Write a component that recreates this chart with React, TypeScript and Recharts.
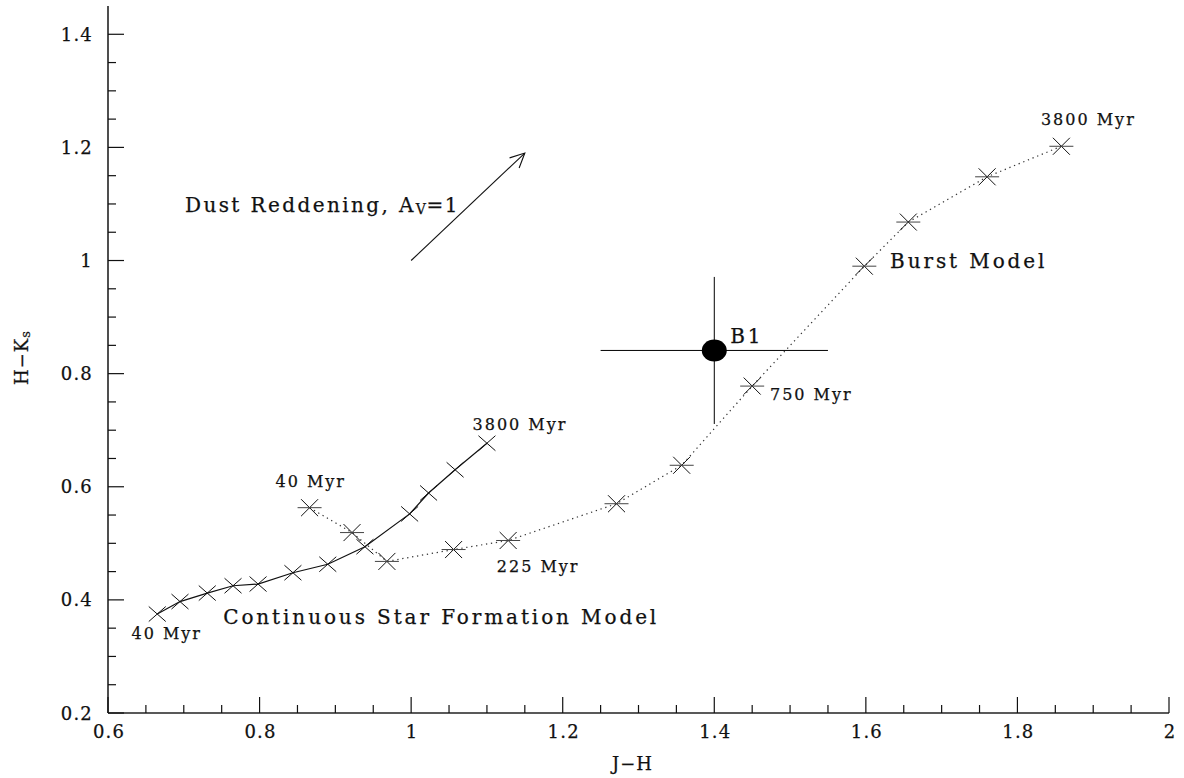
import React from 'react';
import { ComposedChart, Scatter, XAxis, YAxis, ErrorBar, ReferenceLine } from 'recharts';

// ---- axis ticks ----
const xTicks = [0.6, 0.65, 0.7, 0.75, 0.8, 0.85, 0.9, 0.95, 1, 1.05, 1.1, 1.15, 1.2, 1.25, 1.3, 1.35, 1.4, 1.45, 1.5, 1.55, 1.6, 1.65, 1.7, 1.75, 1.8, 1.85, 1.9, 1.95, 2];
const xMajorTicks = [0.6, 0.8, 1, 1.2, 1.4, 1.6, 1.8, 2];
const yTicks = [0.2, 0.25, 0.3, 0.35, 0.4, 0.45, 0.5, 0.55, 0.6, 0.65, 0.7, 0.75, 0.8, 0.85, 0.9, 0.95, 1, 1.05, 1.1, 1.15, 1.2, 1.25, 1.3, 1.35, 1.4];
const yMajorTicks = [0.2, 0.4, 0.6, 0.8, 1, 1.2, 1.4];

// ---- Continuous star formation model ----
const contJH = [0.665, 0.695, 0.731, 0.765, 0.798, 0.844, 0.890, 0.939, 0.998, 1.023, 1.058, 1.100];
const contHK = [0.375, 0.397, 0.412, 0.425, 0.428, 0.448, 0.463, 0.494, 0.552, 0.589, 0.630, 0.677];

// ---- Burst model ----
const burstJH = [0.866, 0.922, 0.968, 1.056, 1.128, 1.271, 1.357, 1.450, 1.598, 1.656, 1.760, 1.858];
const burstHK = [0.563, 0.519, 0.468, 0.489, 0.505, 0.570, 0.638, 0.778, 0.990, 1.068, 1.148, 1.202];

// ---- B1 measurement ----
const b1JH = [1.40];
const b1HK = [0.841];
const b1ErrJH = [0.15];
const b1ErrHK = [0.13];

// ---- Reddening vector (A_V = 1) ----
const arrowStart = { x: 1.0, y: 1.0 };
const arrowEnd = { x: 1.15, y: 1.19 };

// ---- Annotations (text, J-H, H-Ks) ----
const bigLabelText = ['Burst Model', 'B1', 'Continuous Star Formation Model'];
const bigLabelJH = [1.632, 1.421, 0.752];
const bigLabelHK = [1.0, 0.866, 0.370];

const ageLabelText = ['3800 Myr', '750 Myr', '225 Myr', '3800 Myr', '40 Myr', '40 Myr'];
const ageLabelJH = [1.831, 1.4735, 1.113, 1.081, 0.821, 0.631];
const ageLabelHK = [1.25, 0.763, 0.459, 0.710, 0.609, 0.341];

const dustLabel = { pre: 'Dust Reddening, A', sub: 'V', post: '=1', x: 0.7016, y: 1.099 };

const contData = contJH.map((x, i) => ({ x, y: contHK[i] }));
const burstData = burstJH.map((x, i) => ({ x, y: burstHK[i] }));
const b1Data = b1JH.map((x, i) => ({ x, y: b1HK[i], ex: b1ErrJH[i], ey: b1ErrHK[i] }));
const bigLabels = bigLabelText.map((t, i) => ({ x: bigLabelJH[i], y: bigLabelHK[i], label: t }));
const ageLabels = ageLabelText.map((t, i) => ({ x: ageLabelJH[i], y: ageLabelHK[i], label: t }));
const dustData = [{ x: dustLabel.x, y: dustLabel.y }];

const FONT = '"DejaVu Serif", serif';
const INK = '#111';
const TXT = { stroke: INK, strokeWidth: 0.25 };

const isMajor = (v: number, majors: number[]) => majors.some((m) => Math.abs(m - v) < 1e-6);
const fmt = (v: number) => String(Math.round(v * 100) / 100);

const BottomTick = (p: any) => {
  const { x, y, payload } = p;
  const major = isMajor(payload.value, xMajorTicks);
  return (
    <g>
      <line x1={x} x2={x} y1={y} y2={y - (major ? 16 : 8)} stroke={INK} strokeWidth={1.2} />
      {major && (
        <text x={x + 1} y={y + 18} textAnchor="middle" dominantBaseline="central" fontFamily={FONT} fontSize={18} letterSpacing={1.2} fill={INK} {...TXT}>
          {fmt(payload.value)}
        </text>
      )}
    </g>
  );
};
const TopTick = (p: any) => {
  const { x, y, payload } = p;
  const major = isMajor(payload.value, xMajorTicks);
  return <line x1={x} x2={x} y1={y} y2={y + (major ? 16 : 8)} stroke={INK} strokeWidth={1.2} />;
};
const LeftTick = (p: any) => {
  const { x, y, payload } = p;
  const major = isMajor(payload.value, yMajorTicks);
  return (
    <g>
      <line x1={x} x2={x + (major ? 16 : 8)} y1={y} y2={y} stroke={INK} strokeWidth={1.2} />
      {major && (
        <text x={x - 15} y={y} textAnchor="end" dominantBaseline="central" fontFamily={FONT} fontSize={18} letterSpacing={1.2} fill={INK} {...TXT}>
          {fmt(payload.value)}
        </text>
      )}
    </g>
  );
};
const RightTick = (p: any) => {
  const { x, y, payload } = p;
  const major = isMajor(payload.value, yMajorTicks);
  return <line x1={x} x2={x - (major ? 16 : 8)} y1={y} y2={y} stroke={INK} strokeWidth={1.2} />;
};

const CrossShape = (p: any) => {
  const { cx, cy } = p;
  const a = 8.5, b = 7.5;
  return (
    <g stroke={INK} strokeWidth={1}>
      <line x1={cx - a} y1={cy - b} x2={cx + a} y2={cy + b} />
      <line x1={cx - a} y1={cy + b} x2={cx + a} y2={cy - b} />
    </g>
  );
};
const StarShape = (p: any) => {
  const { cx, cy } = p;
  const a = 8.5, b = 8.5, h = 12;
  return (
    <g stroke={INK} strokeWidth={1}>
      <line x1={cx - a} y1={cy - b} x2={cx + a} y2={cy + b} />
      <line x1={cx - a} y1={cy + b} x2={cx + a} y2={cy - b} />
      <line x1={cx - h} y1={cy} x2={cx + h} y2={cy} stroke="#444" />
    </g>
  );
};
const EllipseShape = (p: any) => <ellipse cx={p.cx} cy={p.cy} rx={12.5} ry={11} fill="#000" />;

const BigText = (p: any) => (
  <text x={p.cx} y={p.cy} dominantBaseline="central" fontFamily={FONT} fontSize={20} letterSpacing={2.9} fill={INK} {...TXT}>
    {p.payload.label}
  </text>
);
const AgeText = (p: any) => (
  <text x={p.cx} y={p.cy} dominantBaseline="central" fontFamily={FONT} fontSize={16} letterSpacing={2} fill={INK} {...TXT}>
    {p.payload.label}
  </text>
);
const DustText = (p: any) => (
  <text x={p.cx} y={p.cy} dominantBaseline="central" fontFamily={FONT} fontSize={20} letterSpacing={2.4} fill={INK} {...TXT}>
    <tspan>{dustLabel.pre}</tspan>
    <tspan dy={4} fontSize={14} letterSpacing={0.5}>{dustLabel.sub}</tspan>
    <tspan dy={-4} letterSpacing={1.5}>{dustLabel.post}</tspan>
  </text>
);

const ArrowShape = (p: any) => {
  const { x1, y1, x2, y2 } = p;
  const ang = Math.atan2(y2 - y1, x2 - x1);
  const L = 16, w = 0.45;
  const ax = x2 - L * Math.cos(ang - w), ay = y2 - L * Math.sin(ang - w);
  const bx = x2 - L * Math.cos(ang + w), by = y2 - L * Math.sin(ang + w);
  return (
    <g stroke={INK} strokeWidth={1.1} fill="none">
      <line x1={x1} y1={y1} x2={x2} y2={y2} />
      <polyline points={`${ax},${ay} ${x2},${y2} ${bx},${by}`} />
    </g>
  );
};

const XTitle = (p: any) => {
  const vb = p.viewBox || { x: 108, y: 713, width: 1061, height: 65 };
  return (
    <text x={vb.x + vb.width / 2 - 6} y={vb.y + 50} textAnchor="middle" dominantBaseline="central" fontFamily={FONT} fontSize={18} letterSpacing={1} fill={INK} {...TXT}>
      J−H
    </text>
  );
};
const YTitle = (p: any) => {
  const vb = p.viewBox || { x: 0, y: 6, width: 108, height: 707 };
  const cx = 21;
  const cy = vb.y + vb.height / 2 - 2;
  return (
    <text x={cx} y={cy} transform={`rotate(-90, ${cx}, ${cy})`} textAnchor="middle" dominantBaseline="central" fontFamily={FONT} fontSize={18} letterSpacing={1} fill={INK} {...TXT}>
      <tspan>H−K</tspan>
      <tspan dy={4} fontSize={13}>s</tspan>
    </text>
  );
};

export default function App() {
  return (
    <div style={{ position: 'absolute', left: 0, top: 0, width: 1184, height: 778, background: '#fff' }}>
      <ComposedChart width={1184} height={778} margin={{ top: 6, right: 15, bottom: 0, left: 0 }}>
        <XAxis
          xAxisId={0}
          type="number"
          dataKey="x"
          domain={[0.6, 2]}
          allowDataOverflow
          ticks={xTicks}
          interval={0}
          height={65}
          tickSize={0}
          tickMargin={0}
          tickLine={false}
          axisLine={{ stroke: '#222', strokeWidth: 1.6 }}
          tick={<BottomTick />}
          label={<XTitle />}
        />
        <XAxis
          xAxisId="top"
          orientation="top"
          type="number"
          domain={[0.6, 2]}
          allowDataOverflow
          ticks={xTicks}
          interval={0}
          height={0}
          tickSize={0}
          tickMargin={0}
          tickLine={false}
          axisLine={{ stroke: '#222', strokeWidth: 1.6 }}
          tick={<TopTick />}
        />
        <YAxis
          yAxisId={0}
          type="number"
          dataKey="y"
          domain={[0.2, 1.45]}
          allowDataOverflow
          ticks={yTicks}
          interval={0}
          width={108}
          tickSize={0}
          tickMargin={0}
          tickLine={false}
          axisLine={{ stroke: '#222', strokeWidth: 1.6 }}
          tick={<LeftTick />}
          label={<YTitle />}
        />
        <YAxis
          yAxisId="right"
          orientation="right"
          type="number"
          domain={[0.2, 1.45]}
          allowDataOverflow
          ticks={yTicks}
          interval={0}
          width={0}
          tickSize={0}
          tickMargin={0}
          tickLine={false}
          axisLine={{ stroke: '#222', strokeWidth: 1.6 }}
          tick={<RightTick />}
        />

        <ReferenceLine segment={[arrowStart, arrowEnd]} shape={ArrowShape} />

        <Scatter
          data={contData}
          line={{ stroke: INK, strokeWidth: 1.2 }}
          lineType="joint"
          shape={CrossShape}
          isAnimationActive={false}
        />
        <Scatter
          data={burstData}
          line={{ stroke: '#333', strokeWidth: 1.2, strokeDasharray: '1.3 3.7' }}
          lineType="joint"
          shape={StarShape}
          isAnimationActive={false}
        />
        <Scatter data={b1Data} shape={EllipseShape} isAnimationActive={false}>
          <ErrorBar dataKey="ex" direction="x" width={0} stroke="#000" strokeWidth={1} isAnimationActive={false} />
          <ErrorBar dataKey="ey" direction="y" width={0} stroke="#000" strokeWidth={1} isAnimationActive={false} />
        </Scatter>
        <Scatter data={bigLabels} shape={BigText} isAnimationActive={false} />
        <Scatter data={ageLabels} shape={AgeText} isAnimationActive={false} />
        <Scatter data={dustData} shape={DustText} isAnimationActive={false} />
      </ComposedChart>
    </div>
  );
}
